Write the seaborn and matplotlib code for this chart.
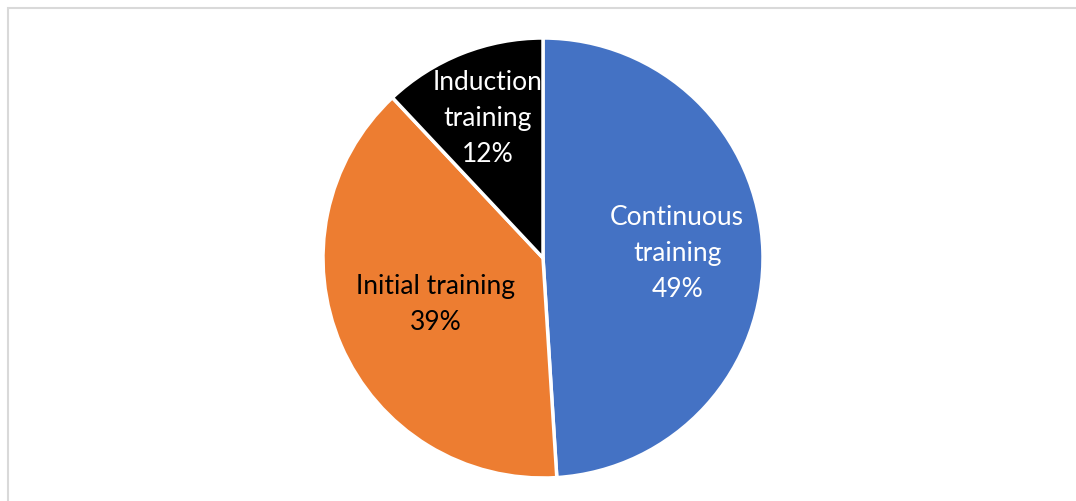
import numpy as np
import matplotlib
matplotlib.use("Agg")
import matplotlib.pyplot as plt
import seaborn as sns
from matplotlib.patches import Rectangle

# chart data
categories = ["Continuous\ntraining", "Initial training", "Induction\ntraining"]
shares = [49, 39, 12]
colors = ["#4472C4", "#ED7D31", "#000000"]
text_colors = ["white", "black", "white"]
label_dist = [0.61, 0.53, 0.68]

sns.set_theme(style="white")
plt.rcParams['font.family'] = ['Lato', 'DejaVu Sans']

fig = plt.figure(figsize=(10.76, 5.01), dpi=100)
# outer chart frame (right/bottom edges fall outside the picture)
fig.patches.append(Rectangle((8 / 1076, -0.1), 1.2, (501 - 8) / 501 + 0.1,
                             transform=fig.transFigure, fill=False,
                             edgecolor="#D9D9D9", linewidth=1.5))

# pie centre at (543, 258), radius 220 px
ax = fig.add_axes([(543 - 220) / 1076, (501 - 258 - 220) / 501, 440 / 1076, 440 / 501])
wedges, _ = ax.pie(shares, colors=colors, startangle=90, counterclock=False,
                   wedgeprops=dict(edgecolor="white", linewidth=2.5))
ax.set_xlim(-1, 1)
ax.set_ylim(-1, 1)
ax.set_aspect("equal")

for w, cat, val, tc, d in zip(wedges, categories, shares, text_colors, label_dist):
    ang = np.deg2rad((w.theta1 + w.theta2) / 2)
    ax.text(d * np.cos(ang), d * np.sin(ang), f"{cat}\n{val}%", ha="center", va="center",
            color=tc, fontsize=19, linespacing=1.55)

plt.savefig("out.png", dpi=100)
